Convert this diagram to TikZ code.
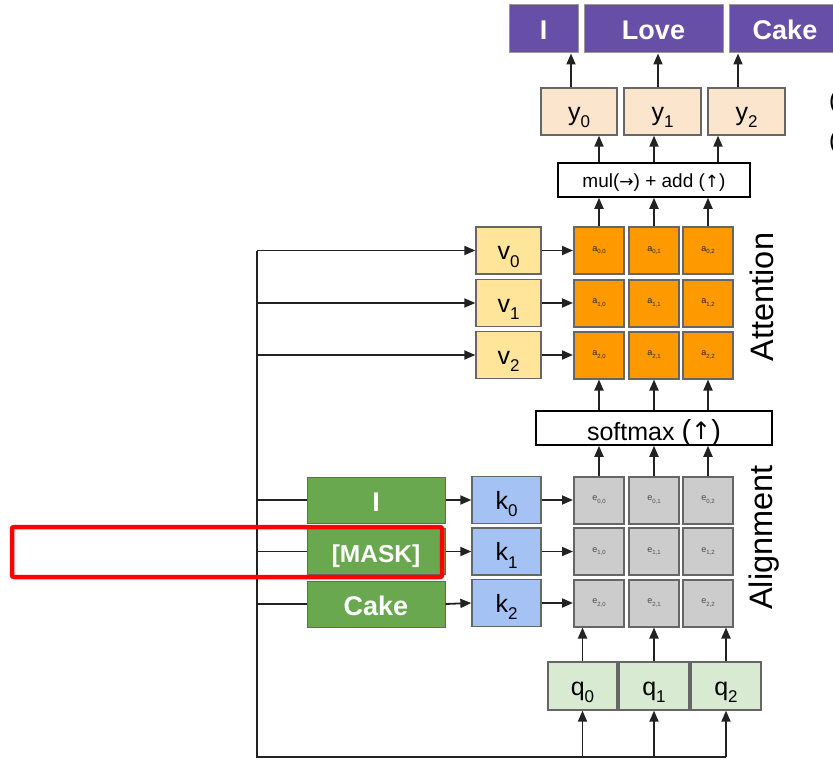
\documentclass[tikz,border=0pt]{standalone}
\usepackage{fontspec}
\setmainfont{Liberation Sans}
\newfontfamily\arrfont{DejaVu Sans}
\usetikzlibrary{arrows.meta}
\definecolor{cpurple}{HTML}{674EA7}
\definecolor{cpeach}{HTML}{FCE5CD}
\definecolor{cyellow}{HTML}{FFE599}
\definecolor{corange}{HTML}{FF9900}
\definecolor{cgray}{HTML}{CCCCCC}
\definecolor{cblue}{HTML}{A4C2F4}
\definecolor{cgreen}{HTML}{6AA84F}
\definecolor{clgreen}{HTML}{D9EAD3}
\definecolor{bordergray}{HTML}{666666}
\definecolor{lightborder}{HTML}{999999}
\definecolor{linecol}{HTML}{222222}
\definecolor{cred}{HTML}{FF0000}
\newcommand{\fs}[1]{\fontsize{#1}{#1}\selectfont}
\newcommand{\vsub}[2]{\fs{25}#1\raisebox{-7.5pt}{\fs{17}#2}}
\newcommand{\csub}[2]{\fs{9}#1\raisebox{-2.2pt}{\fs{6}#2}}
\tikzset{
  box/.style={draw=bordergray, line width=1.3, inner sep=0, text height=20, text depth=2},
  wordbox/.style={draw=lightborder, line width=1, inner sep=0, text=white, font=\bfseries\fs{27}, text height=24, text depth=2},
  cellbox/.style={draw=bordergray, line width=2, inner sep=0, minimum width=50, minimum height=47},
  plainbox/.style={draw=black, line width=1.5, fill=white, inner sep=0},
  arr/.style={draw=linecol, line width=1.8, -{Triangle[length=11,width=9]}},
  plain/.style={draw=linecol, line width=1.8},
  sidelabel/.style={rotate=90, anchor=base, inner sep=0, font=\fs{32.5}}
}
\begin{document}
\begin{tikzpicture}[x=1pt,y=-1pt]
\useasboundingbox (0,0) rectangle (833,760);
% output words
\node[wordbox, fill=cpurple, minimum width=69, minimum height=48] (wI) at (543.5,29) {I};
\node[wordbox, fill=cpurple, minimum width=139, minimum height=48] (wLove) at (653.5,29) {Love};
\node[wordbox, fill=cpurple, minimum width=112, minimum height=48] (wCake) at (785,29) {Cake};
% y boxes
\node[box, fill=cpeach, minimum width=76, minimum height=47] (y0) at (579,111.5) {\vsub{y}{0}};
\node[box, fill=cpeach, minimum width=77, minimum height=47] (y1) at (662.5,111.5) {\vsub{y}{1}};
\node[box, fill=cpeach, minimum width=77, minimum height=47] (y2) at (746.5,111.5) {\vsub{y}{2}};
% text cut off at the right edge, as in the reference
\node[anchor=west, inner sep=0, font=\fs{24}] (r1) at (829,102) {(};
\node[anchor=west, inner sep=0, font=\fs{24}] (r2) at (829,142) {(};
% mul box
\node[plainbox, minimum width=192, minimum height=34, text height=15, text depth=-1] (mul) at (654,180) {\fs{19}mul({\arrfont\fs{17}→}) + add ({\arrfont\fs{17}↑})};
% attention grid
\foreach \r/\yy in {0/250.5,1/303,2/355}{
  \foreach \c/\xx in {0/599,1/654,2/708}{
    \node[cellbox, fill=corange, text=black!85] (a\r\c) at (\xx,\yy) {\csub{a}{\r,\c}};
  }
  \node[box, fill=cyellow, minimum width=65, minimum height=47] (v\r) at (508.5,\yy) {\vsub{v}{\r}};
}
\node[sidelabel] (att) at (773,297) {Attention};
% softmax
\node[plainbox, minimum width=236, minimum height=34, text height=24, text depth=0] (sm) at (654,428) {\fs{25}softmax {\fs{29}(\raisebox{1pt}{\arrfont\fs{24}↑})}};
% alignment grid
\foreach \r/\yy in {0/500,1/551.5,2/603}{
  \foreach \c/\xx in {0/599,1/654,2/708}{
    \node[cellbox, fill=cgray, text=black!70] (e\r\c) at (\xx,\yy) {\csub{e}{\r,\c}};
  }
  \node[box, fill=cblue, minimum width=69, minimum height=47] (k\r) at (506.5,\yy) {\vsub{k}{\r}};
}
\node[sidelabel] (aln) at (772,537.5) {Alignment};
% input words
\node[wordbox, draw=bordergray, fill=cgreen, minimum width=138, minimum height=46] (g0) at (376,500) {I};
\node[wordbox, draw=bordergray, fill=cgreen, minimum width=138, minimum height=46, font=\bfseries\fs{24.5}] (g1) at (376,551.5) {[MASK]};
\node[wordbox, draw=bordergray, fill=cgreen, minimum width=138, minimum height=46] (g2) at (376,604) {Cake};
% q boxes
\node[box, fill=clgreen, minimum width=69, minimum height=48] (q0) at (582.5,686) {\vsub{q}{0}};
\node[box, fill=clgreen, minimum width=70, minimum height=48] (q1) at (654,686) {\vsub{q}{1}};
\node[box, fill=clgreen, minimum width=70, minimum height=48] (q2) at (726,686) {\vsub{q}{2}};
% bus
\coordinate (bt) at (257,250.5);
\coordinate (bb) at (257,757);
\draw[plain] (bt) -- (bb) -- (q2.south |- bb);
\draw[arr] (bt) -- (v0.west);
\draw[arr] (bt |- v1.west) -- (v1.west);
\draw[arr] (bt |- v2.west) -- (v2.west);
\foreach \i in {0,1,2}{
  \draw[plain] (bt |- g\i.west) -- (g\i.west);
  \draw[arr] (g\i.east) -- (k\i.west);
  \draw[arr] (k\i.east) -- (e\i0.west);
  \draw[arr] (v\i.east) -- (a\i0.west);
  \draw[arr] (q\i.south |- bb) -- (q\i.south);
  \draw[arr] (q\i.north) -- (q\i.north |- e20.south);
  \draw[arr] (e0\i.north) -- (e0\i.north |- sm.south);
  \draw[arr] (a2\i.south |- sm.north) -- (a2\i.south);
  \draw[arr] (a0\i.north) -- (a0\i.north |- mul.south);
}
\draw[arr] (a00.north |- mul.north) -- (a00.north |- y0.south);
\draw[arr] (a01.north |- mul.north) -- (a01.north |- y1.south);
\draw[arr] ([xshift=10]a02.north |- mul.north) -- ([xshift=10]a02.north |- y2.south);
\draw[arr] ([xshift=-8]y0.north) -- ([xshift=-8]y0.north |- wI.south);
\draw[arr] ([xshift=-4.5]y1.north) -- ([xshift=-4.5]y1.north |- wLove.south);
\draw[arr] ([xshift=-8.5]y2.north) -- ([xshift=-8.5]y2.north |- wCake.south);
% highlight
\node[draw=cred, line width=4.5, rounded corners=2, minimum width=430, minimum height=50, inner sep=0] (hl) at (227,552) {};
\end{tikzpicture}
\end{document}
